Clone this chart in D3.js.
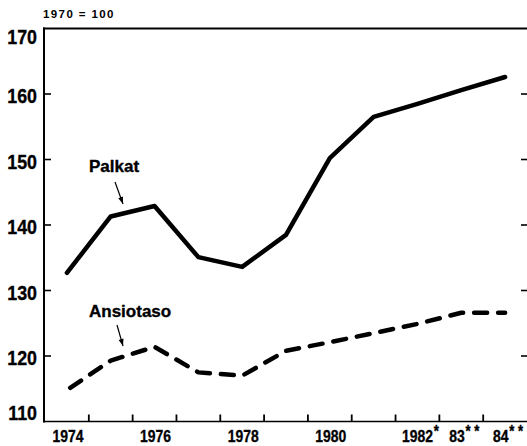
<!DOCTYPE html>
<html><head><meta charset="utf-8">
<script src="https://cdn.jsdelivr.net/npm/d3@7"></script>
<style>
html,body{margin:0;padding:0;background:#fff;}
svg{display:block;}
.n{font-family:"Liberation Sans",Arial,sans-serif;font-weight:bold;fill:#000;stroke:#000;stroke-width:0.35;}
</style></head>
<body>
<svg id="c" width="527" height="446"></svg>
<script>
const years = [1974,1975,1976,1977,1978,1979,1980,1981,1982,1983,1984];
const palkat = [132.7,141.3,142.9,135.1,133.6,138.5,150.2,156.5,158.5,160.6,162.6];
const ansiotaso = [114.8,119.3,121.4,117.5,117.0,120.8,122.1,123.5,124.9,126.6,126.6];
const yTicks = [110,120,130,140,150,160,170];
const xLabels = [{y:1974,t:"1974",s:""},{y:1976,t:"1976",s:""},{y:1978,t:"1978",s:""},{y:1980,t:"1980",s:""},{y:1982,t:"1982",s:"*"},{y:1983,t:"83",s:"* *"},{y:1984,t:"84",s:"* *"}];
const baseLabel = "1970 = 100";

const svg = d3.select("#c");
const x = d3.scaleLinear().domain([1973.5,1984.5]).range([45,527]);
const y = d3.scaleLinear().domain([110,170]).range([421.5,28.5]);

// frame
svg.append("line").attr("x1",44).attr("x2",44).attr("y1",y(170)-1).attr("y2",y(110)+1).attr("stroke","#000").attr("stroke-width",2);
svg.append("line").attr("x1",43).attr("x2",527).attr("y1",y(170)).attr("y2",y(170)).attr("stroke","#000").attr("stroke-width",2);
svg.append("line").attr("x1",43).attr("x2",527).attr("y1",y(110)).attr("y2",y(110)).attr("stroke","#000").attr("stroke-width",1.6);

// y ticks left and right
const inner = yTicks.filter(v=>v>110 && v<170);
svg.selectAll(".lt").data(inner).enter().append("line")
  .attr("x1",44).attr("x2",51).attr("y1",d=>y(d)).attr("y2",d=>y(d)).attr("stroke","#000").attr("stroke-width",1.6);
svg.selectAll(".rt").data(inner).enter().append("line")
  .attr("x1",521).attr("x2",527).attr("y1",d=>y(d)).attr("y2",d=>y(d)).attr("stroke","#000").attr("stroke-width",1.6);
svg.selectAll(".yl").data(yTicks).enter().append("text").attr("class","n")
  .attr("text-anchor","end").attr("font-size",21)
  .attr("transform",d=>`translate(37,${y(d)+(d===170?15:(d===110?-2:9))}) scale(0.85,1)`)
  .text(d=>d);

// x ticks at year boundaries
const bounds = years.slice(0,-1).map(v=>v+0.5);
svg.selectAll(".xt").data(bounds).enter().append("line")
  .attr("x1",d=>x(d)).attr("x2",d=>x(d)).attr("y1",y(110)).attr("y2",y(110)-7).attr("stroke","#000").attr("stroke-width",1.8);
const xl = svg.selectAll(".xl").data(xLabels).enter().append("text").attr("class","n")
  .attr("font-size",17).attr("text-anchor","middle")
  .attr("transform",d=>`translate(${x(d.y)+(d.s?3:1)},442) scale(0.82,1)`);
xl.append("tspan").text(d=>d.t);
xl.filter(d=>d.s).append("tspan").attr("font-size",16).attr("dy",-5).attr("dx",1).text(d=>d.s);

svg.append("text").attr("x",43).attr("y",18).attr("font-family","Liberation Sans, Arial, sans-serif")
  .attr("font-weight","bold").attr("font-size",11.5).attr("letter-spacing",1.4).text(baseLabel);

// lines
const line = (arr)=>d3.line().x((d,i)=>x(years[i])).y(d=>y(d))(arr);
svg.append("path").attr("d",line(palkat)).attr("fill","none").attr("stroke","#000")
  .attr("stroke-width",4.5).attr("stroke-linejoin","round").attr("stroke-linecap","round");
svg.append("path").attr("d",line(ansiotaso)).attr("fill","none").attr("stroke","#000")
  .attr("stroke-width",4.5).attr("stroke-linejoin","round").attr("stroke-linecap","round")
  .attr("stroke-dasharray","13 11").attr("stroke-dashoffset",-4);

// labels with arrows
function label(txt, tx, ty, ax1, ay1, ax2, ay2){
  svg.append("text").attr("class","n").attr("font-size",17).attr("x",tx).attr("y",ty).text(txt);
  svg.append("line").attr("x1",ax1).attr("y1",ay1).attr("x2",ax2).attr("y2",ay2).attr("stroke","#000").attr("stroke-width",1.2);
  const ang = Math.atan2(ay2-ay1, ax2-ax1);
  const L=7, W=2.5;
  const p = [[ax2,ay2],[ax2-L*Math.cos(ang)+W*Math.sin(ang), ay2-L*Math.sin(ang)-W*Math.cos(ang)],[ax2-L*Math.cos(ang)-W*Math.sin(ang), ay2-L*Math.sin(ang)+W*Math.cos(ang)]];
  svg.append("path").attr("d","M"+p.map(q=>q.join(",")).join("L")+"Z").attr("fill","#000");
}
label("Palkat", 89, 172, 115, 182, 123, 204);
label("Ansiotaso", 89, 317, 117, 325, 123, 346);
</script>
</body></html>
